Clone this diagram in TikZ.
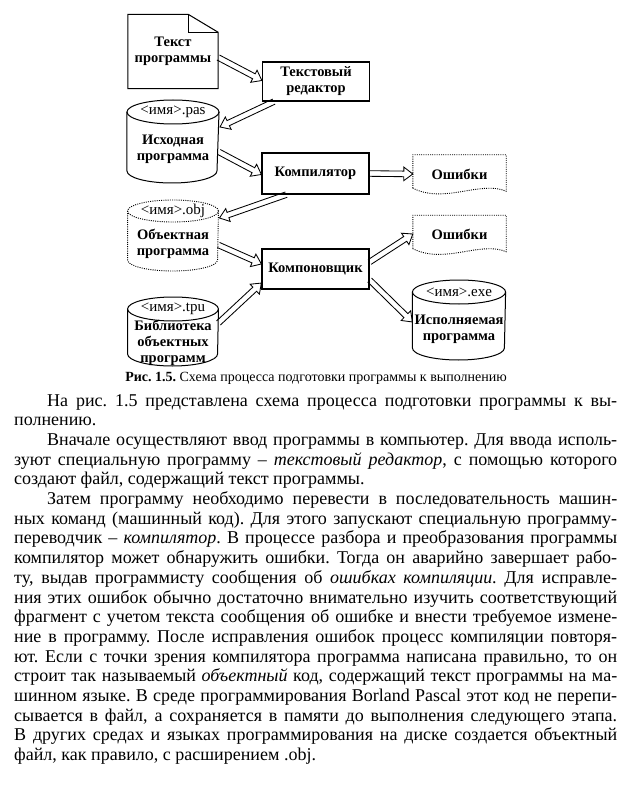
\documentclass[tikz,border=0pt]{standalone}
\usepackage{fontspec}
\setmainfont{Liberation Serif}[WordSpace={1,1.5,1.8}]
\usetikzlibrary{shapes.geometric,calc}
\newcommand\harrow[2]{%
  \path let \p1=(#1), \p2=(#2), \n1={atan2(\y2-\y1,\x2-\x1)}, \n2={veclen(\x2-\x1,\y2-\y1)} in
  [draw, line width=0.85pt, line join=miter, shift={(\p1)}, rotate=\n1]
  (0pt,-2.8pt) -- (\n2-9pt,-2.8pt) -- (\n2-9pt,-6.8pt) -- (\n2,0pt) -- (\n2-9pt,6.8pt) -- (\n2-9pt,2.8pt) -- (0pt,2.8pt);}
\newcommand\tline[1]{\hbox to 603pt{#1}}
\newcommand\tlast[1]{\hbox to 603pt{#1\hfil}}
\newcommand\tind{\kern33pt}
\begin{document}
\frenchspacing
\begin{tikzpicture}[x=1pt,y=-1pt,
  ln/.style={line width=1pt},
  dotl/.style={line width=0.9pt, dash pattern=on 1pt off 1.2pt},
  lbl/.style={font=\fontsize{14.5}{16}\selectfont\bfseries, align=center, inner sep=0pt},
  boxn/.style={draw, line width=1.2pt, lbl, minimum width=107pt},
  topell/.style={ellipse, inner sep=0pt, outer sep=0pt, minimum width=90pt, minimum height=24pt, font=\fontsize{15}{16}\selectfont},
  errn/.style={lbl, minimum width=93pt, minimum height=38pt}]
\fill[white] (0,0) rectangle (634,799);
\useasboundingbox (0,0) rectangle (634,799);

% document "Текст программы"
\node[lbl, minimum width=90pt, minimum height=74pt] (doc) at (173,51.5) {Текст\\программы};
\draw[ln] (doc.south west) -- (doc.north west) -- ($(doc.north east)+(-30,0)$) -- ($(doc.north east)+(0,18)$) -- (doc.south east) -- cycle;
\draw[ln] ($(doc.north east)+(-30,0)$) |- ($(doc.north east)+(0,18)$);

% process boxes
\node[boxn, minimum height=39pt] (ed) at (316,81.5) {Текстовый\\редактор};
\node[boxn, minimum height=41pt] (comp) at (315.5,173.5) {Компилятор};
\node[boxn, minimum height=40pt] (link) at (315.5,269) {Компоновщик};

% cylinder .pas
\node[topell, draw, ln] (pasT) at (173,112) {<имя>.pas};
\node[lbl] (pasB) at (173,149.5) {Исходная\\программа};
\draw[ln] (pasT.west) -- ++(0,59) arc[start angle=180,end angle=0,x radius=45,y radius=12] -- (pasT.east);

% cylinder .obj (dotted)
\node[topell, draw, dotl, minimum height=22pt] (objT) at (173,211) {<имя>.obj};
\node[lbl] (objB) at (173,243.5) {Объектная\\программа};
\draw[dotl] (objT.west) -- ++(0,49) arc[start angle=180,end angle=0,x radius=45,y radius=11] -- (objT.east);

% cylinder .tpu
\node[topell, draw, ln] (tpuT) at (173,309) {<имя>.tpu};
\node[lbl] (tpuB) at (173,342.5) {Библиотека\\объектных\\программ};
\draw[ln] (tpuT.west) -- ++(0,45) arc[start angle=180,end angle=0,x radius=45,y radius=12] -- (tpuT.east);

% cylinder .exe
\node[topell, draw, ln, minimum width=92pt] (exeT) at (459,292) {<имя>.exe};
\node[lbl] (exeB) at (459,329) {Исполняемая\\программа};
\draw[ln] (exeT.west) -- ++(0,56) arc[start angle=180,end angle=0,x radius=46,y radius=12] -- (exeT.east);

% error documents (dotted)
\node[errn] (err1) at (459.5,174) {Ошибки};
\draw[dotl] ($(err1.south west)+(0,-5)$) -- (err1.north west) -- (err1.north east) -- ($(err1.south east)+(0,-2)$)
  .. controls ($(err1.south east)+(-26,-13)$) and ($(err1.south west)+(32,11)$) .. ($(err1.south west)+(0,-5)$);
\node[errn] (err2) at (459.5,234.5) {Ошибки};
\draw[dotl] ($(err2.south west)+(0,-5)$) -- (err2.north west) -- (err2.north east) -- ($(err2.south east)+(0,-2)$)
  .. controls ($(err2.south east)+(-26,-13)$) and ($(err2.south west)+(32,11)$) .. ($(err2.south west)+(0,-5)$);

% hollow arrows
\harrow{$(doc.east)+(0,6)$}{$(ed.west)+(0,-1)$}
\harrow{$(ed.south west)+(12,0)$}{$(pasT.east)+(1,15)$}
\harrow{$(pasT.east)+(0,40)$}{$(comp.west)+(0,1)$}
\harrow{$(comp.south west)+(25,0)$}{$(objT.east)+(1,7)$}
\harrow{$(objT.east)+(0,34)$}{$(link.west)+(0,-5)$}
\harrow{$(tpuT.east)+(0,14)$}{$(link.west)+(0,14)$}
\harrow{comp.east}{err1.west}
\harrow{$(link.east)+(0,-7)$}{$(err2.west)+(0,-0.5)$}
\harrow{$(link.east)+(0,11)$}{$(exeT.west)+(0,30)$}

% caption
\node[font=\fontsize{14}{16}\selectfont, inner sep=0pt] (cap) at (316,378) {\textbf{Рис. 1.5.} Схема процесса подготовки программы к выполнению};

% body text
\node[anchor=north west, inner sep=0pt, font=\fontsize{18}{19.7}\selectfont] (body) at (14,394) {\vbox{\baselineskip=19.7pt
\tline{\tind На рис. 1.5 представлена схема процесса подготовки программы к вы-}
\tlast{полнению.}
\tline{\tind Вначале осуществляют ввод программы в компьютер. Для ввода исполь-}
\tline{зуют специальную программу – \textit{текстовый редактор}, с помощью которого}
\tlast{создают файл, содержащий текст программы.}
\tline{\tind Затем программу необходимо перевести в последовательность машин-}
\tline{ных команд (машинный код). Для этого запускают специальную программу-}
\tline{переводчик – \textit{компилятор}. В процессе разбора и преобразования программы}
\tline{компилятор может обнаружить ошибки. Тогда он аварийно завершает рабо-}
\tline{ту, выдав программисту сообщения об \textit{ошибках компиляции}. Для исправле-}
\tline{ния этих ошибок обычно достаточно внимательно изучить соответствующий}
\tline{фрагмент с учетом текста сообщения об ошибке и внести требуемое измене-}
\tline{ние в программу. После исправления ошибок процесс компиляции повторя-}
\tline{ют. Если с точки зрения компилятора программа написана правильно, то он}
\tline{строит так называемый \textit{объектный} код, содержащий текст программы на ма-}
\tline{шинном языке. В среде программирования Borland Pascal этот код не перепи-}
\tline{сывается в файл, а сохраняется в памяти до выполнения следующего этапа.}
\tline{В других средах и языках программирования на диске создается объектный}
\tlast{файл, как правило, с расширением .obj.}
}};
\end{tikzpicture}
\end{document}
